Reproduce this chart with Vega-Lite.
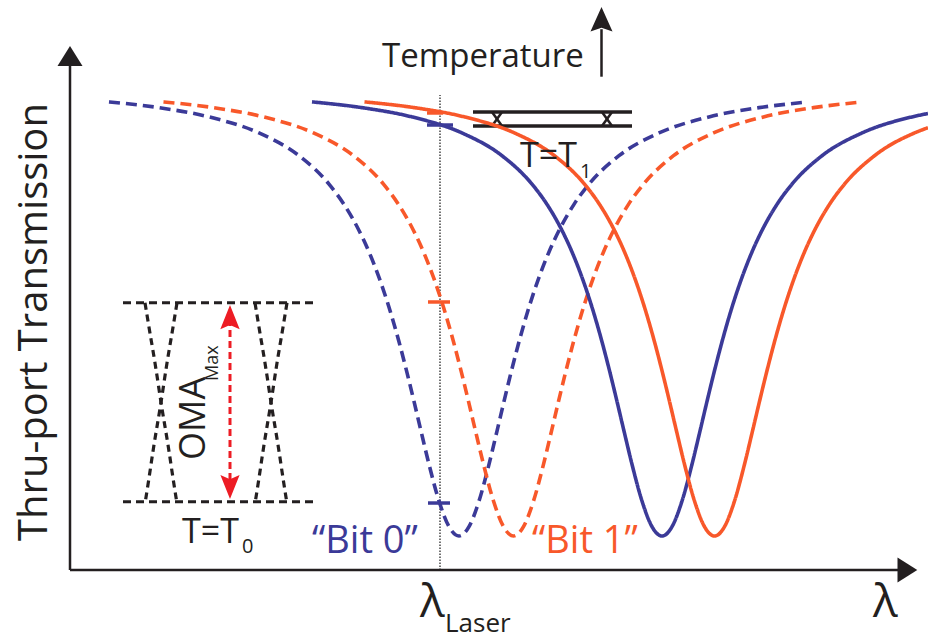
{
  "$schema": "https://vega.github.io/schema/vega-lite/v6.json",
  "width": 928,
  "height": 639,
  "autosize": {"type": "fit", "contains": "padding"},
  "padding": 0,
  "background": "white",
  "config": {"view": {"stroke": null}, "font": "Open Sans"},
  "datasets": {
    "curves": [
      {"bit":"0","temp":"T0","x":3.9,"y":0.9652},{"bit":"0","temp":"T0","x":8.9,"y":0.9533},{"bit":"0","temp":"T0","x":13.9,"y":0.9342},{"bit":"0","temp":"T0","x":18.9,"y":0.9011},{"bit":"0","temp":"T0","x":22.9,"y":0.8542},{"bit":"0","temp":"T0","x":25.9,"y":0.7956},{"bit":"0","temp":"T0","x":27.4,"y":0.7539},{"bit":"0","temp":"T0","x":28.9,"y":0.7001},{"bit":"0","temp":"T0","x":29.9,"y":0.6558},{"bit":"0","temp":"T0","x":30.9,"y":0.6033},{"bit":"0","temp":"T0","x":31.9,"y":0.5418},{"bit":"0","temp":"T0","x":32.9,"y":0.4705},{"bit":"0","temp":"T0","x":33.7,"y":0.4069},{"bit":"0","temp":"T0","x":34.4,"y":0.3476},{"bit":"0","temp":"T0","x":35.1,"y":0.2865},{"bit":"0","temp":"T0","x":35.9,"y":0.2179},{"bit":"0","temp":"T0","x":36.9,"y":0.1422},{"bit":"0","temp":"T0","x":37.9,"y":0.0893},{"bit":"0","temp":"T0","x":38.9,"y":0.0701},{"bit":"0","temp":"T0","x":39.9,"y":0.0893},{"bit":"0","temp":"T0","x":40.9,"y":0.1422},{"bit":"0","temp":"T0","x":41.9,"y":0.2179},{"bit":"0","temp":"T0","x":42.7,"y":0.2865},{"bit":"0","temp":"T0","x":43.4,"y":0.3476},{"bit":"0","temp":"T0","x":44.1,"y":0.4069},{"bit":"0","temp":"T0","x":44.9,"y":0.4705},{"bit":"0","temp":"T0","x":45.9,"y":0.5418},{"bit":"0","temp":"T0","x":46.9,"y":0.6033},{"bit":"0","temp":"T0","x":47.9,"y":0.6558},{"bit":"0","temp":"T0","x":48.9,"y":0.7001},{"bit":"0","temp":"T0","x":50.4,"y":0.7539},{"bit":"0","temp":"T0","x":51.9,"y":0.7956},{"bit":"0","temp":"T0","x":54.9,"y":0.8542},{"bit":"0","temp":"T0","x":58.9,"y":0.9011},{"bit":"0","temp":"T0","x":63.9,"y":0.9342},{"bit":"0","temp":"T0","x":68.9,"y":0.9533},{"bit":"0","temp":"T0","x":73.3,"y":0.964},
      {"bit":"1","temp":"T0","x":9.35,"y":0.9652},{"bit":"1","temp":"T0","x":14.35,"y":0.9533},{"bit":"1","temp":"T0","x":19.35,"y":0.9342},{"bit":"1","temp":"T0","x":24.35,"y":0.9011},{"bit":"1","temp":"T0","x":28.35,"y":0.8542},{"bit":"1","temp":"T0","x":31.35,"y":0.7956},{"bit":"1","temp":"T0","x":32.85,"y":0.7539},{"bit":"1","temp":"T0","x":34.35,"y":0.7001},{"bit":"1","temp":"T0","x":35.35,"y":0.6558},{"bit":"1","temp":"T0","x":36.35,"y":0.6033},{"bit":"1","temp":"T0","x":37.35,"y":0.5418},{"bit":"1","temp":"T0","x":38.35,"y":0.4705},{"bit":"1","temp":"T0","x":39.15,"y":0.4069},{"bit":"1","temp":"T0","x":39.85,"y":0.3476},{"bit":"1","temp":"T0","x":40.55,"y":0.2865},{"bit":"1","temp":"T0","x":41.35,"y":0.2179},{"bit":"1","temp":"T0","x":42.35,"y":0.1422},{"bit":"1","temp":"T0","x":43.35,"y":0.0893},{"bit":"1","temp":"T0","x":44.35,"y":0.0701},{"bit":"1","temp":"T0","x":45.35,"y":0.0893},{"bit":"1","temp":"T0","x":46.35,"y":0.1422},{"bit":"1","temp":"T0","x":47.35,"y":0.2179},{"bit":"1","temp":"T0","x":48.15,"y":0.2865},{"bit":"1","temp":"T0","x":48.85,"y":0.3476},{"bit":"1","temp":"T0","x":49.55,"y":0.4069},{"bit":"1","temp":"T0","x":50.35,"y":0.4705},{"bit":"1","temp":"T0","x":51.35,"y":0.5418},{"bit":"1","temp":"T0","x":52.35,"y":0.6033},{"bit":"1","temp":"T0","x":53.35,"y":0.6558},{"bit":"1","temp":"T0","x":54.35,"y":0.7001},{"bit":"1","temp":"T0","x":55.85,"y":0.7539},{"bit":"1","temp":"T0","x":57.35,"y":0.7956},{"bit":"1","temp":"T0","x":60.35,"y":0.8542},{"bit":"1","temp":"T0","x":64.35,"y":0.9011},{"bit":"1","temp":"T0","x":69.35,"y":0.9342},{"bit":"1","temp":"T0","x":74.35,"y":0.9533},{"bit":"1","temp":"T0","x":78.7,"y":0.964},
      {"bit":"0","temp":"T1","x":24.2,"y":0.9652},{"bit":"0","temp":"T1","x":29.2,"y":0.9533},{"bit":"0","temp":"T1","x":34.2,"y":0.9342},{"bit":"0","temp":"T1","x":39.2,"y":0.9011},{"bit":"0","temp":"T1","x":43.2,"y":0.8542},{"bit":"0","temp":"T1","x":46.2,"y":0.7956},{"bit":"0","temp":"T1","x":47.7,"y":0.7539},{"bit":"0","temp":"T1","x":49.2,"y":0.7001},{"bit":"0","temp":"T1","x":50.2,"y":0.6558},{"bit":"0","temp":"T1","x":51.2,"y":0.6033},{"bit":"0","temp":"T1","x":52.2,"y":0.5418},{"bit":"0","temp":"T1","x":53.2,"y":0.4705},{"bit":"0","temp":"T1","x":54.0,"y":0.4069},{"bit":"0","temp":"T1","x":54.7,"y":0.3476},{"bit":"0","temp":"T1","x":55.4,"y":0.2865},{"bit":"0","temp":"T1","x":56.2,"y":0.2179},{"bit":"0","temp":"T1","x":57.2,"y":0.1422},{"bit":"0","temp":"T1","x":58.2,"y":0.0893},{"bit":"0","temp":"T1","x":59.2,"y":0.0701},{"bit":"0","temp":"T1","x":60.2,"y":0.0893},{"bit":"0","temp":"T1","x":61.2,"y":0.1422},{"bit":"0","temp":"T1","x":62.2,"y":0.2179},{"bit":"0","temp":"T1","x":63.0,"y":0.2865},{"bit":"0","temp":"T1","x":63.7,"y":0.3476},{"bit":"0","temp":"T1","x":64.4,"y":0.4069},{"bit":"0","temp":"T1","x":65.2,"y":0.4705},{"bit":"0","temp":"T1","x":66.2,"y":0.5418},{"bit":"0","temp":"T1","x":67.2,"y":0.6033},{"bit":"0","temp":"T1","x":68.2,"y":0.6558},{"bit":"0","temp":"T1","x":69.2,"y":0.7001},{"bit":"0","temp":"T1","x":70.7,"y":0.7539},{"bit":"0","temp":"T1","x":72.2,"y":0.7956},{"bit":"0","temp":"T1","x":75.2,"y":0.8542},{"bit":"0","temp":"T1","x":79.2,"y":0.9011},{"bit":"0","temp":"T1","x":84.2,"y":0.9342},{"bit":"0","temp":"T1","x":85.8,"y":0.9413},
      {"bit":"1","temp":"T1","x":29.45,"y":0.9652},{"bit":"1","temp":"T1","x":34.45,"y":0.9533},{"bit":"1","temp":"T1","x":39.45,"y":0.9342},{"bit":"1","temp":"T1","x":44.45,"y":0.9011},{"bit":"1","temp":"T1","x":48.45,"y":0.8542},{"bit":"1","temp":"T1","x":51.45,"y":0.7956},{"bit":"1","temp":"T1","x":52.95,"y":0.7539},{"bit":"1","temp":"T1","x":54.45,"y":0.7001},{"bit":"1","temp":"T1","x":55.45,"y":0.6558},{"bit":"1","temp":"T1","x":56.45,"y":0.6033},{"bit":"1","temp":"T1","x":57.45,"y":0.5418},{"bit":"1","temp":"T1","x":58.45,"y":0.4705},{"bit":"1","temp":"T1","x":59.25,"y":0.4069},{"bit":"1","temp":"T1","x":59.95,"y":0.3476},{"bit":"1","temp":"T1","x":60.65,"y":0.2865},{"bit":"1","temp":"T1","x":61.45,"y":0.2179},{"bit":"1","temp":"T1","x":62.45,"y":0.1422},{"bit":"1","temp":"T1","x":63.45,"y":0.0893},{"bit":"1","temp":"T1","x":64.45,"y":0.0701},{"bit":"1","temp":"T1","x":65.45,"y":0.0893},{"bit":"1","temp":"T1","x":66.45,"y":0.1422},{"bit":"1","temp":"T1","x":67.45,"y":0.2179},{"bit":"1","temp":"T1","x":68.25,"y":0.2865},{"bit":"1","temp":"T1","x":68.95,"y":0.3476},{"bit":"1","temp":"T1","x":69.65,"y":0.4069},{"bit":"1","temp":"T1","x":70.45,"y":0.4705},{"bit":"1","temp":"T1","x":71.45,"y":0.5418},{"bit":"1","temp":"T1","x":72.45,"y":0.6033},{"bit":"1","temp":"T1","x":73.45,"y":0.6558},{"bit":"1","temp":"T1","x":74.45,"y":0.7001},{"bit":"1","temp":"T1","x":75.95,"y":0.7539},{"bit":"1","temp":"T1","x":77.45,"y":0.7956},{"bit":"1","temp":"T1","x":80.45,"y":0.8542},{"bit":"1","temp":"T1","x":84.45,"y":0.9011},{"bit":"1","temp":"T1","x":85.8,"y":0.912}
    ],
    "levels": [
      {"bit":"1","x":35.7,"x2":37.3,"y":0.9423},
      {"bit":"0","x":35.7,"x2":38.3,"y":0.9175},
      {"bit":"1","x":35.8,"x2":38.0,"y":0.5526},
      {"bit":"0","x":35.8,"x2":38.0,"y":0.1381}
    ],
    "rails": [
      {"temp":"T0","x":5.3,"x2":24.3,"y":0.5511},
      {"temp":"T0","x":5.3,"x2":24.3,"y":0.1408},
      {"temp":"T1","x":40.3,"x2":56.2,"y":0.9443},
      {"temp":"T1","x":40.3,"x2":56.2,"y":0.9155}
    ],
    "crossings": [
      {"temp":"T0","id":"A","i":0,"x":7.5,"y":0.5511},{"temp":"T0","id":"A","i":1,"x":7.83,"y":0.5093},{"temp":"T0","id":"A","i":2,"x":8.5,"y":0.4268},{"temp":"T0","id":"A","i":3,"x":9.17,"y":0.3367},{"temp":"T0","id":"A","i":4,"x":9.83,"y":0.2542},{"temp":"T0","id":"A","i":5,"x":10.33,"y":0.1856},{"temp":"T0","id":"A","i":6,"x":10.67,"y":0.1408},
      {"temp":"T0","id":"B","i":0,"x":10.7,"y":0.5511},{"temp":"T0","id":"B","i":1,"x":10.37,"y":0.5093},{"temp":"T0","id":"B","i":2,"x":9.7,"y":0.4268},{"temp":"T0","id":"B","i":3,"x":9.03,"y":0.3367},{"temp":"T0","id":"B","i":4,"x":8.37,"y":0.2542},{"temp":"T0","id":"B","i":5,"x":7.87,"y":0.1856},{"temp":"T0","id":"B","i":6,"x":7.53,"y":0.1408},
      {"temp":"T0","id":"C","i":0,"x":18.5,"y":0.5511},{"temp":"T0","id":"C","i":1,"x":18.83,"y":0.5093},{"temp":"T0","id":"C","i":2,"x":19.5,"y":0.4268},{"temp":"T0","id":"C","i":3,"x":20.17,"y":0.3367},{"temp":"T0","id":"C","i":4,"x":20.83,"y":0.2542},{"temp":"T0","id":"C","i":5,"x":21.33,"y":0.1856},{"temp":"T0","id":"C","i":6,"x":21.67,"y":0.1408},
      {"temp":"T0","id":"D","i":0,"x":21.7,"y":0.5511},{"temp":"T0","id":"D","i":1,"x":21.37,"y":0.5093},{"temp":"T0","id":"D","i":2,"x":20.7,"y":0.4268},{"temp":"T0","id":"D","i":3,"x":20.03,"y":0.3367},{"temp":"T0","id":"D","i":4,"x":19.37,"y":0.2542},{"temp":"T0","id":"D","i":5,"x":18.87,"y":0.1856},{"temp":"T0","id":"D","i":6,"x":18.53,"y":0.1408},
      {"temp":"T1","id":"E","i":0,"x":42.2,"y":0.9443},{"temp":"T1","id":"E","i":1,"x":43.2,"y":0.9155},
      {"temp":"T1","id":"F","i":0,"x":43.2,"y":0.9443},{"temp":"T1","id":"F","i":1,"x":42.2,"y":0.9155},
      {"temp":"T1","id":"G","i":0,"x":53.2,"y":0.9443},{"temp":"T1","id":"G","i":1,"x":54.2,"y":0.9155},
      {"temp":"T1","id":"H","i":0,"x":54.2,"y":0.9443},{"temp":"T1","id":"H","i":1,"x":53.2,"y":0.9155}
    ],
    "axes": [
      {"what":"y","x":0,"x2":0,"y":0,"y2":1.045},
      {"what":"x","x":0,"x2":83.0,"y":0,"y2":0},
      {"what":"temperature","x":53.15,"x2":53.15,"y":1.0171,"y2":1.115}
    ],
    "laser": [{"x":37.0,"y":0,"y2":0.9794}],
    "oma": [{"x":16.0,"y":0.1856,"y2":0.5052}],
    "heads": [
      {"kind":"yaxis","x":0,"y":1.0598},
      {"kind":"xaxis","x":83.74,"y":0},
      {"kind":"temp","x":53.15,"y":1.1357},
      {"kind":"omaUp","x":16.0,"y":0.5216},
      {"kind":"omaDown","x":16.0,"y":0.1711}
    ],
    "labels": [
      {"role":"ylab","label":"Thru-port Transmission","x":-2.3,"y":0.5113},
      {"role":"temp","label":"Temperature","x":31.2,"y":1.0381},
      {"role":"teq","label":"T=T","x":45.0,"y":0.8309},
      {"role":"teq","label":"T=T","x":11.2,"y":0.0557},
      {"role":"sub","label":"1","x":51.0,"y":0.8082},
      {"role":"sub","label":"0","x":17.2,"y":0.0351},
      {"role":"lambda","label":"λ","x":35.0,"y":-0.097},
      {"role":"lambda","label":"λ","x":80.3,"y":-0.097},
      {"role":"laser","label":"Laser","x":37.5,"y":-0.128},
      {"role":"oma","label":"OMA","x":13.5,"y":0.2268},
      {"role":"omasub","label":"Max","x":14.8,"y":0.3897}
    ],
    "bits": [
      {"bit":"0","label":"“Bit 0”","x":24.2,"y":0.0351},
      {"bit":"1","label":"“Bit 1”","x":46.2,"y":0.0351}
    ]
  },
  "encoding": {
    "x": {"field": "x", "type": "quantitative", "scale": {"domain": [-7, 85.8], "nice": false, "zero": false}, "axis": null},
    "y": {"field": "y", "type": "quantitative", "scale": {"domain": [-0.14227, 1.17526], "nice": false, "zero": false}, "axis": null}
  },
  "layer": [
    {
      "data": {"name": "laser"},
      "mark": {"type": "rule", "stroke": "#444444", "strokeWidth": 1.5, "strokeDash": [1.5, 1.5]},
      "encoding": {"y2": {"field": "y2"}}
    },
    {
      "data": {"name": "rails"},
      "transform": [{"filter": "datum.temp == 'T0'"}],
      "mark": {"type": "rule", "stroke": "#231f20", "strokeWidth": 3, "strokeDash": [8, 5]},
      "encoding": {"x2": {"field": "x2"}}
    },
    {
      "data": {"name": "rails"},
      "transform": [{"filter": "datum.temp == 'T1'"}],
      "mark": {"type": "rule", "stroke": "#231f20", "strokeWidth": 3.5},
      "encoding": {"x2": {"field": "x2"}}
    },
    {
      "data": {"name": "crossings"},
      "transform": [{"filter": "datum.temp == 'T0'"}],
      "mark": {"type": "line", "stroke": "#231f20", "strokeWidth": 3.2, "strokeDash": [7, 5], "interpolate": "monotone"},
      "encoding": {"detail": {"field": "id"}, "order": {"field": "i"}}
    },
    {
      "data": {"name": "crossings"},
      "transform": [{"filter": "datum.temp == 'T1'"}],
      "mark": {"type": "line", "stroke": "#231f20", "strokeWidth": 2.5},
      "encoding": {"detail": {"field": "id"}, "order": {"field": "i"}}
    },
    {
      "data": {"name": "oma"},
      "mark": {"type": "rule", "stroke": "#ed1c24", "strokeWidth": 3, "strokeDash": [7, 4]},
      "encoding": {"y2": {"field": "y2"}}
    },
    {
      "data": {"name": "curves"},
      "mark": {"type": "line", "strokeWidth": 3.6, "interpolate": "monotone", "clip": true},
      "encoding": {
        "detail": {"field": "temp"},
        "color": {"field": "bit", "type": "nominal", "scale": {"domain": ["0", "1"], "range": ["#3b3a98", "#f8582a"]}, "legend": null},
        "strokeDash": {"field": "temp", "type": "nominal", "scale": {"domain": ["T0", "T1"], "range": [[11, 6], [1, 0]]}, "legend": null}
      }
    },
    {
      "data": {"name": "levels"},
      "mark": {"type": "rule", "strokeWidth": 3.5},
      "encoding": {
        "x2": {"field": "x2"},
        "color": {"field": "bit", "type": "nominal", "legend": null}
      }
    },
    {
      "data": {"name": "axes"},
      "mark": {"type": "rule", "stroke": "#231f20", "strokeWidth": 2.5},
      "encoding": {"x2": {"field": "x2"}, "y2": {"field": "y2"}}
    },
    {
      "data": {"name": "heads"},
      "mark": {"type": "point", "filled": true, "opacity": 1, "strokeWidth": 0},
      "encoding": {
        "shape": {"field": "kind", "type": "nominal", "legend": null, "scale": {"domain": ["yaxis", "xaxis", "temp", "omaUp", "omaDown"], "range": ["M0,-0.8L1,0.8L-1,0.8Z", "M0.8,0L-0.8,-1L-0.8,1Z", "M0,-1L0.9,1L0,0.7L-0.9,1Z", "M0,-1L0.8,1L0,0.65L-0.8,1Z", "M0,1L0.8,-1L0,-0.65L-0.8,-1Z"]}},
        "size": {"field": "kind", "type": "ordinal", "legend": null, "scale": {"domain": ["yaxis", "xaxis", "temp", "omaUp", "omaDown"], "range": [625, 576, 625, 900, 900]}},
        "fill": {"field": "kind", "type": "nominal", "legend": null, "scale": {"domain": ["yaxis", "xaxis", "temp", "omaUp", "omaDown"], "range": ["#231f20", "#231f20", "#231f20", "#ed1c24", "#ed1c24"]}}
      }
    },
    {
      "data": {"name": "labels"},
      "transform": [{"filter": "datum.role == 'ylab'"}],
      "mark": {"type": "text", "angle": 270, "align": "center", "baseline": "alphabetic", "fontSize": 40, "color": "#231f20"},
      "encoding": {"text": {"field": "label"}}
    },
    {
      "data": {"name": "labels"},
      "transform": [{"filter": "datum.role == 'temp'"}],
      "mark": {"type": "text", "align": "left", "baseline": "alphabetic", "fontSize": 33, "color": "#231f20"},
      "encoding": {"text": {"field": "label"}}
    },
    {
      "data": {"name": "labels"},
      "transform": [{"filter": "datum.role == 'teq'"}],
      "mark": {"type": "text", "align": "left", "baseline": "alphabetic", "fontSize": 34, "color": "#231f20"},
      "encoding": {"text": {"field": "label"}}
    },
    {
      "data": {"name": "labels"},
      "transform": [{"filter": "datum.role == 'sub'"}],
      "mark": {"type": "text", "align": "left", "baseline": "alphabetic", "fontSize": 20, "color": "#231f20"},
      "encoding": {"text": {"field": "label"}}
    },
    {
      "data": {"name": "labels"},
      "transform": [{"filter": "datum.role == 'lambda'"}],
      "mark": {"type": "text", "align": "left", "baseline": "alphabetic", "fontSize": 46, "color": "#231f20"},
      "encoding": {"text": {"field": "label"}}
    },
    {
      "data": {"name": "labels"},
      "transform": [{"filter": "datum.role == 'laser'"}],
      "mark": {"type": "text", "align": "left", "baseline": "alphabetic", "fontSize": 26, "color": "#231f20"},
      "encoding": {"text": {"field": "label"}}
    },
    {
      "data": {"name": "labels"},
      "transform": [{"filter": "datum.role == 'oma'"}],
      "mark": {"type": "text", "angle": 270, "align": "left", "baseline": "alphabetic", "fontSize": 36, "color": "#231f20"},
      "encoding": {"text": {"field": "label"}}
    },
    {
      "data": {"name": "labels"},
      "transform": [{"filter": "datum.role == 'omasub'"}],
      "mark": {"type": "text", "angle": 270, "align": "left", "baseline": "alphabetic", "fontSize": 18, "color": "#231f20"},
      "encoding": {"text": {"field": "label"}}
    },
    {
      "data": {"name": "bits"},
      "mark": {"type": "text", "align": "left", "baseline": "alphabetic", "fontSize": 38},
      "encoding": {
        "text": {"field": "label"},
        "color": {"field": "bit", "type": "nominal", "legend": null}
      }
    }
  ]
}
